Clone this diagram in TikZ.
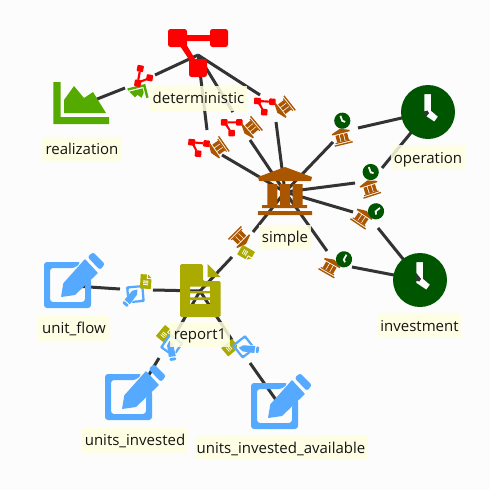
\documentclass[tikz,border=0pt]{standalone}
\usepackage{fontspec}
\setmainfont{Open Sans}
\definecolor{bluei}{HTML}{55AAFF}
\definecolor{greeni}{HTML}{55AA00}
\definecolor{redi}{HTML}{FF0000}
\definecolor{browni}{HTML}{AA5500}
\definecolor{clocki}{HTML}{005500}
\definecolor{olivei}{HTML}{AAAA00}
\definecolor{labbg}{HTML}{FFFFE0}
\tikzset{
  link/.style={draw=black!80,line width=3pt},
  lab/.style={fill=labbg,fill opacity=.85,text opacity=1,inner sep=0pt,font=\fontsize{15}{17}\selectfont,text=black!92,text height=12.5pt,text depth=1pt,minimum height=25pt}
}
\newcommand\editicon[4]{\begin{scope}[shift={(#1,#2)},rotate=#3,scale=#4]
 \pgfmathsetmacro\rc{3*#4}
 \fill[bluei,rounded corners=\rc pt] (7,-24)--(-30,-24)--(-30,22)--(17,22)--(17,-8)--(11,-2)--(11,16)--(-24,16)--(-24,-18)--(1,-18)--cycle;
 \pgfmathsetmacro\rd{.5*#4}
 \fill[bluei,rounded corners=\rd pt] (-13,11)--(-10.7,-2.7)--(11,-27)--(24,-13)--(1,9)--cycle;
 \pgfmathsetmacro\re{2.5*#4}
 \fill[bluei,rounded corners=\re pt] (13.5,-29)--(19,-34)--(31,-22)--(26,-16)--cycle;
\end{scope}}
\newcommand\clockicon[4]{\begin{scope}[shift={(#1,#2)},rotate=#3,scale=#4]
 \fill[clocki,even odd rule] (0,0) circle (27) (-3.7,-18)--(3,-18)--(3,-1.3)--(10,4.7)--(6.3,9.7)--(-3.7,3)--cycle;
\end{scope}}
\newcommand\bankicon[4]{\begin{scope}[shift={(#1,#2)},rotate=#3,scale=#4]
 \fill[browni] (0,-25)--(27,-15)--(26,-11)--(-26,-11)--(-27,-15)--cycle;
 \fill[browni] (-17.7,-8) rectangle (-7.7,13) (-5,-8) rectangle (5,13) (7.7,-8) rectangle (17.7,13);
 \fill[browni] (-23,13) rectangle (22,16) (-27,19) rectangle (27,23);
\end{scope}}
\newcommand\reporticon[4]{\begin{scope}[shift={(#1,#2)},rotate=#3,scale=#4]
 \pgfmathsetmacro\rc{1.5*#4}
 \fill[olivei,even odd rule,rounded corners=\rc pt] (-20,-27)--(3,-27)--(3,-10)--(20.7,-10)--(20.7,26)--(-20,26)--cycle
   [sharp corners] (-10,-4.3) rectangle (10,0) (-10,2.3) rectangle (10,6.3) (-10,9) rectangle (10,13);
 \fill[olivei] (7.7,-27)--(20.7,-14)--(7.7,-14)--cycle;
\end{scope}}
\newcommand\treeicon[4]{\begin{scope}[shift={(#1,#2)},rotate=#3,scale=#4]
 \pgfmathsetmacro\rc{2.5*#4}
 \fill[redi,rounded corners=\rc pt] (-30,-26) rectangle (-11,-8) (12,-26) rectangle (30,-8) (-9,4) rectangle (9,22);
 \fill[redi] (-11,-20) rectangle (12,-14) (-18,-9)--(-12,-11)--(-3,4)--(-8,6)--cycle;
\end{scope}}
\newcommand\charticon[4]{\begin{scope}[shift={(#1,#2)},rotate=#3,scale=#4]
 \fill[greeni] (-28.7,-21)--(-21.3,-21)--(-21.3,14)--(27,14)--(27,21)--(-28.7,21)--cycle;
 \fill[greeni] (-18,10)--(-18,-3)--(-8,-17)--(2,-5)--(11,-11)--(24,10)--cycle;
\end{scope}}
\begin{document}
\begin{tikzpicture}[x=1pt,y=-1pt]
\useasboundingbox (0,0) rectangle (490,490);
\fill[white!99!black] (0,0) rectangle (490,490);
% hubs
\coordinate (det) at (198,55);
\coordinate (real) at (82,105);
\coordinate (simp) at (285,192);
\coordinate (oper) at (428,112);
\coordinate (inv) at (420,280);
\coordinate (rep) at (200,291);
\coordinate (uf) at (74,286);
\coordinate (ui) at (135,398);
\coordinate (uia) at (281,407);
% free ends beside the small icons
\coordinate (a1) at (155,75); \coordinate (a2) at (125,88);
\coordinate (b1) at (207,130); \coordinate (b2) at (222,155);
\coordinate (c1) at (233,112); \coordinate (c2) at (250,140);
\coordinate (d1) at (260,95); \coordinate (d2) at (276,122);
\coordinate (e1) at (333,142); \coordinate (e2) at (358,128);
\coordinate (f1) at (355,183); \coordinate (f2) at (382,168);
\coordinate (g1) at (353,212); \coordinate (g2) at (378,228);
\coordinate (h1) at (327,251); \coordinate (h2) at (352,267);
\coordinate (i1) at (253,232); \coordinate (i2) at (232,257);
\coordinate (j1) at (120,289); \coordinate (j2) at (153,290);
\coordinate (k1) at (175,335); \coordinate (k2) at (159,358);
\coordinate (l1) at (232,340); \coordinate (l2) at (250,363);
\draw[link] (det)--(a1) (a2)--(real);
\draw[link] (det)--(b1) (b2)--(simp);
\draw[link] (det)--(c1) (c2)--(simp);
\draw[link] (det)--(d1) (d2)--(simp);
\draw[link] (simp)--(e1) (e2)--(oper);
\draw[link] (simp)--(f1) (f2)--(oper);
\draw[link] (simp)--(g1) (g2)--(inv);
\draw[link] (simp)--(h1) (h2)--(inv);
\draw[link] (simp)--(i1) (i2)--(rep);
\draw[link] (rep)--(j2) (j1)--(uf);
\draw[link] (rep)--(k1) (k2)--(ui);
\draw[link] (rep)--(l1) (l2)--(uia);
% large icons
\treeicon{198}{55}{0}{1}
\charticon{82}{103}{0}{1}
\bankicon{285}{192}{0}{1}
\clockicon{428}{112}{0}{1}
\clockicon{420}{280}{0}{1}
\reporticon{200}{291}{0}{1}
\editicon{74}{286}{0}{1}
\editicon{135}{398}{0}{1}
\editicon{281}{407}{0}{1}
% small icons
\charticon{137.7}{93}{-166}{.33}
\treeicon{145}{77}{80}{.36}
\treeicon{198.5}{149}{-5}{.36}
\bankicon{218}{148}{125}{.34}
\treeicon{231.7}{128.5}{0}{.36}
\bankicon{251}{128}{130}{.34}
\treeicon{264.5}{107.5}{-3}{.36}
\bankicon{284}{107.5}{128}{.34}
\clockicon{342.3}{120.7}{20}{.3}
\bankicon{342}{137}{14}{.34}
\clockicon{370.7}{172}{20}{.3}
\bankicon{370}{188.5}{18}{.34}
\bankicon{362}{218}{-34}{.34}
\clockicon{376}{211.3}{-50}{.3}
\bankicon{330}{267}{-30}{.34}
\clockicon{344}{259.3}{-30}{.3}
\bankicon{240}{238}{-135}{.34}
\reporticon{246}{253}{-120}{.27}
\editicon{133}{294}{-175}{.37}
\reporticon{145.7}{281.7}{-3}{.27}
\reporticon{164.5}{334}{-40}{.27}
\editicon{170}{347}{-125}{.37}
\reporticon{230}{347.7}{-50}{.27}
\editicon{245}{349}{-52}{.37}
% labels
\node[lab,minimum width=97pt] (ldet) at (198.5,98) {deterministic};
\node[lab,minimum width=80pt] (lreal) at (82,149) {realization};
\node[lab,minimum width=74pt] (loper) at (428,157.5) {operation};
\node[lab,minimum width=52pt] (lsimp) at (285,237) {simple};
\node[lab,minimum width=83pt] (linv) at (419.5,325.5) {investment};
\node[lab,minimum width=60pt] (lrep) at (200,334) {report1};
\node[lab,minimum width=72pt] (luf) at (74,328) {unit\_flow};
\node[lab,minimum width=106pt] (lui) at (135,440) {units\_invested};
\node[lab,minimum width=173pt] (luia) at (281,447.5) {units\_invested\_available};
\end{tikzpicture}
\end{document}
